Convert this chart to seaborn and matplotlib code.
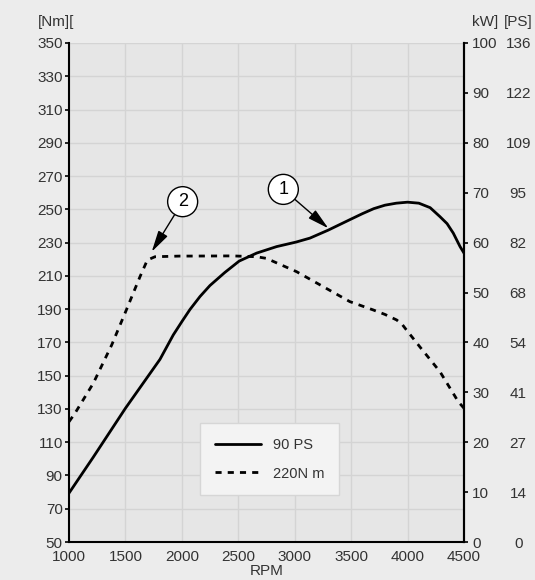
import numpy as np
import pandas as pd
import matplotlib
matplotlib.use("Agg")
import matplotlib.pyplot as plt
import seaborn as sns

# power curve (kW, right axis)
rpm_power = [1000, 1215, 1500, 1806, 1924, 2004, 2072, 2161, 2249, 2380, 2508, 2663, 2840,
             3011, 3135, 3297, 3489, 3600, 3700, 3800, 3900, 4000, 4100, 4200, 4287, 4350,
             4405, 4465, 4500]
power_kw = [9.8, 17.0, 26.8, 36.6, 41.5, 44.3, 46.6, 49.2, 51.4, 54.0, 56.3, 57.9, 59.2,
            60.1, 60.9, 62.5, 64.6, 65.8, 66.8, 67.5, 67.9, 68.1, 67.9, 67.0, 65.2, 63.8,
            61.9, 59.2, 57.9]

# torque curve (Nm, left axis)
rpm_torque = [1000, 1053, 1215, 1378, 1502, 1629, 1694, 1762, 1983, 2072, 2450, 2663,
              2750, 3017, 3253, 3489, 3696, 3800, 3903, 3950, 3990, 4108, 4287, 4449, 4500]
torque_nm = [122.3, 127.4, 145.4, 168.4, 188.5, 209.5, 219.5, 221.5, 221.9, 221.9, 222.0,
             221.5, 220.5, 212.5, 203.5, 194.5, 189.5, 186.8, 183.5, 181.0, 177.5, 167.4,
             152.4, 134.4, 130.4]

nm_ticks = list(range(50, 351, 20))
kw_ticks = list(range(0, 101, 10))
ps_labels = ["0", "14", "27", "41", "54", "68", "82", "95", "109", "122", "136"]
rpm_ticks = list(range(1000, 4501, 500))

power = pd.DataFrame({"RPM": rpm_power, "kW": power_kw})
torque = pd.DataFrame({"RPM": rpm_torque, "Nm": torque_nm})

sns.set_style("white")
plt.rcParams["font.family"] = ["Liberation Sans", "DejaVu Sans"]
txt = "#333333"

fig = plt.figure(figsize=(5.35, 5.8), dpi=100, facecolor="#ececec")
ax = fig.add_axes([69/535, 1-542/580, 395/535, 499/580])
ax.set_facecolor("#e6e6e6")

sns.lineplot(data=torque, x="RPM", y="Nm", ax=ax, color="black", lw=2,
             linestyle=(0, (2.2, 2.2)), label="220N m", legend=False)

ax.set_xlim(1000, 4500)
ax.set_ylim(50, 350)
ax.set_xticks(rpm_ticks)
ax.set_yticks(nm_ticks)
ax.grid(True, color="#d4d4d4", lw=1)
ax.set_axisbelow(True)
ax.set_xlabel("RPM", fontsize=11, color=txt, labelpad=0)
ax.set_ylabel("")
ax.tick_params(axis="both", direction="out", length=3, width=1.2, colors="black",
               labelcolor=txt, labelsize=11)
ax.tick_params(axis="y", pad=1.5)
ax.tick_params(axis="x", pad=3)
for s in ["left", "bottom", "right"]:
    ax.spines[s].set_color("black")
    ax.spines[s].set_linewidth(1.5)
ax.spines["top"].set_visible(False)

# kW axis
ax2 = ax.twinx()
sns.lineplot(data=power, x="RPM", y="kW", ax=ax2, color="black", lw=2,
             label="90 PS", legend=False)
ax2.lines[0].set_solid_joinstyle("round")
ax2.set_ylim(0, 100)
ax2.set_yticks(kw_ticks)
ax2.set_ylabel("")
ax2.tick_params(axis="y", direction="out", length=3, width=1.2, colors="black",
                labelcolor=txt, labelsize=11, pad=3)
for s in ["top", "left", "bottom"]:
    ax2.spines[s].set_visible(False)
ax2.spines["right"].set_color("black")
ax2.spines["right"].set_linewidth(1.5)

# PS labels column
ax3 = ax.twinx()
ax3.set_ylim(0, 100)
ax3.set_yticks(kw_ticks)
ax3.set_yticklabels(ps_labels, ha="center")
ax3.tick_params(axis="y", length=0, labelcolor=txt, labelsize=11, pad=39)
for s in ax3.spines.values():
    s.set_visible(False)

# annotations
circ = dict(boxstyle="circle,pad=0.36", fc="white", ec="black", lw=1)
arrow = dict(arrowstyle="-|>,head_length=1.0,head_width=0.25", color="black", lw=1,
             shrinkA=0, shrinkB=0)
ax.annotate("1", xy=(3298, 238.6), xytext=(2899, 262), fontsize=13, ha="center",
            va="center", bbox=circ, arrowprops=arrow, color="black")
ax.annotate("2", xy=(1733, 224.5), xytext=(2007, 254.6), fontsize=13, ha="center",
            va="center", bbox=circ, arrowprops=arrow, color="black")

# legend
h2, l2 = ax2.get_legend_handles_labels()
h1, l1 = ax.get_legend_handles_labels()
leg = ax2.legend(h2 + h1, l2 + l1, loc="lower left", bbox_to_anchor=(0.332, 0.094),
                 fontsize=10.5, frameon=True, fancybox=False, framealpha=1,
                 handlelength=3.2, borderpad=1.0, labelspacing=1.0,
                 handletextpad=0.8, borderaxespad=0)
leg.get_frame().set_facecolor("#f3f3f3")
leg.get_frame().set_edgecolor("#d6d6d6")
for t in leg.get_texts():
    t.set_color(txt)

fig.text(56/535, 1-22/580, "[Nm][", ha="center", va="center", fontsize=11, color=txt)
fig.text(485/535, 1-22/580, "kW]", ha="center", va="center", fontsize=11, color=txt)
fig.text(518/535, 1-22/580, "[PS]", ha="center", va="center", fontsize=11, color=txt)

fig.savefig("out.png", dpi=100, facecolor=fig.get_facecolor())
